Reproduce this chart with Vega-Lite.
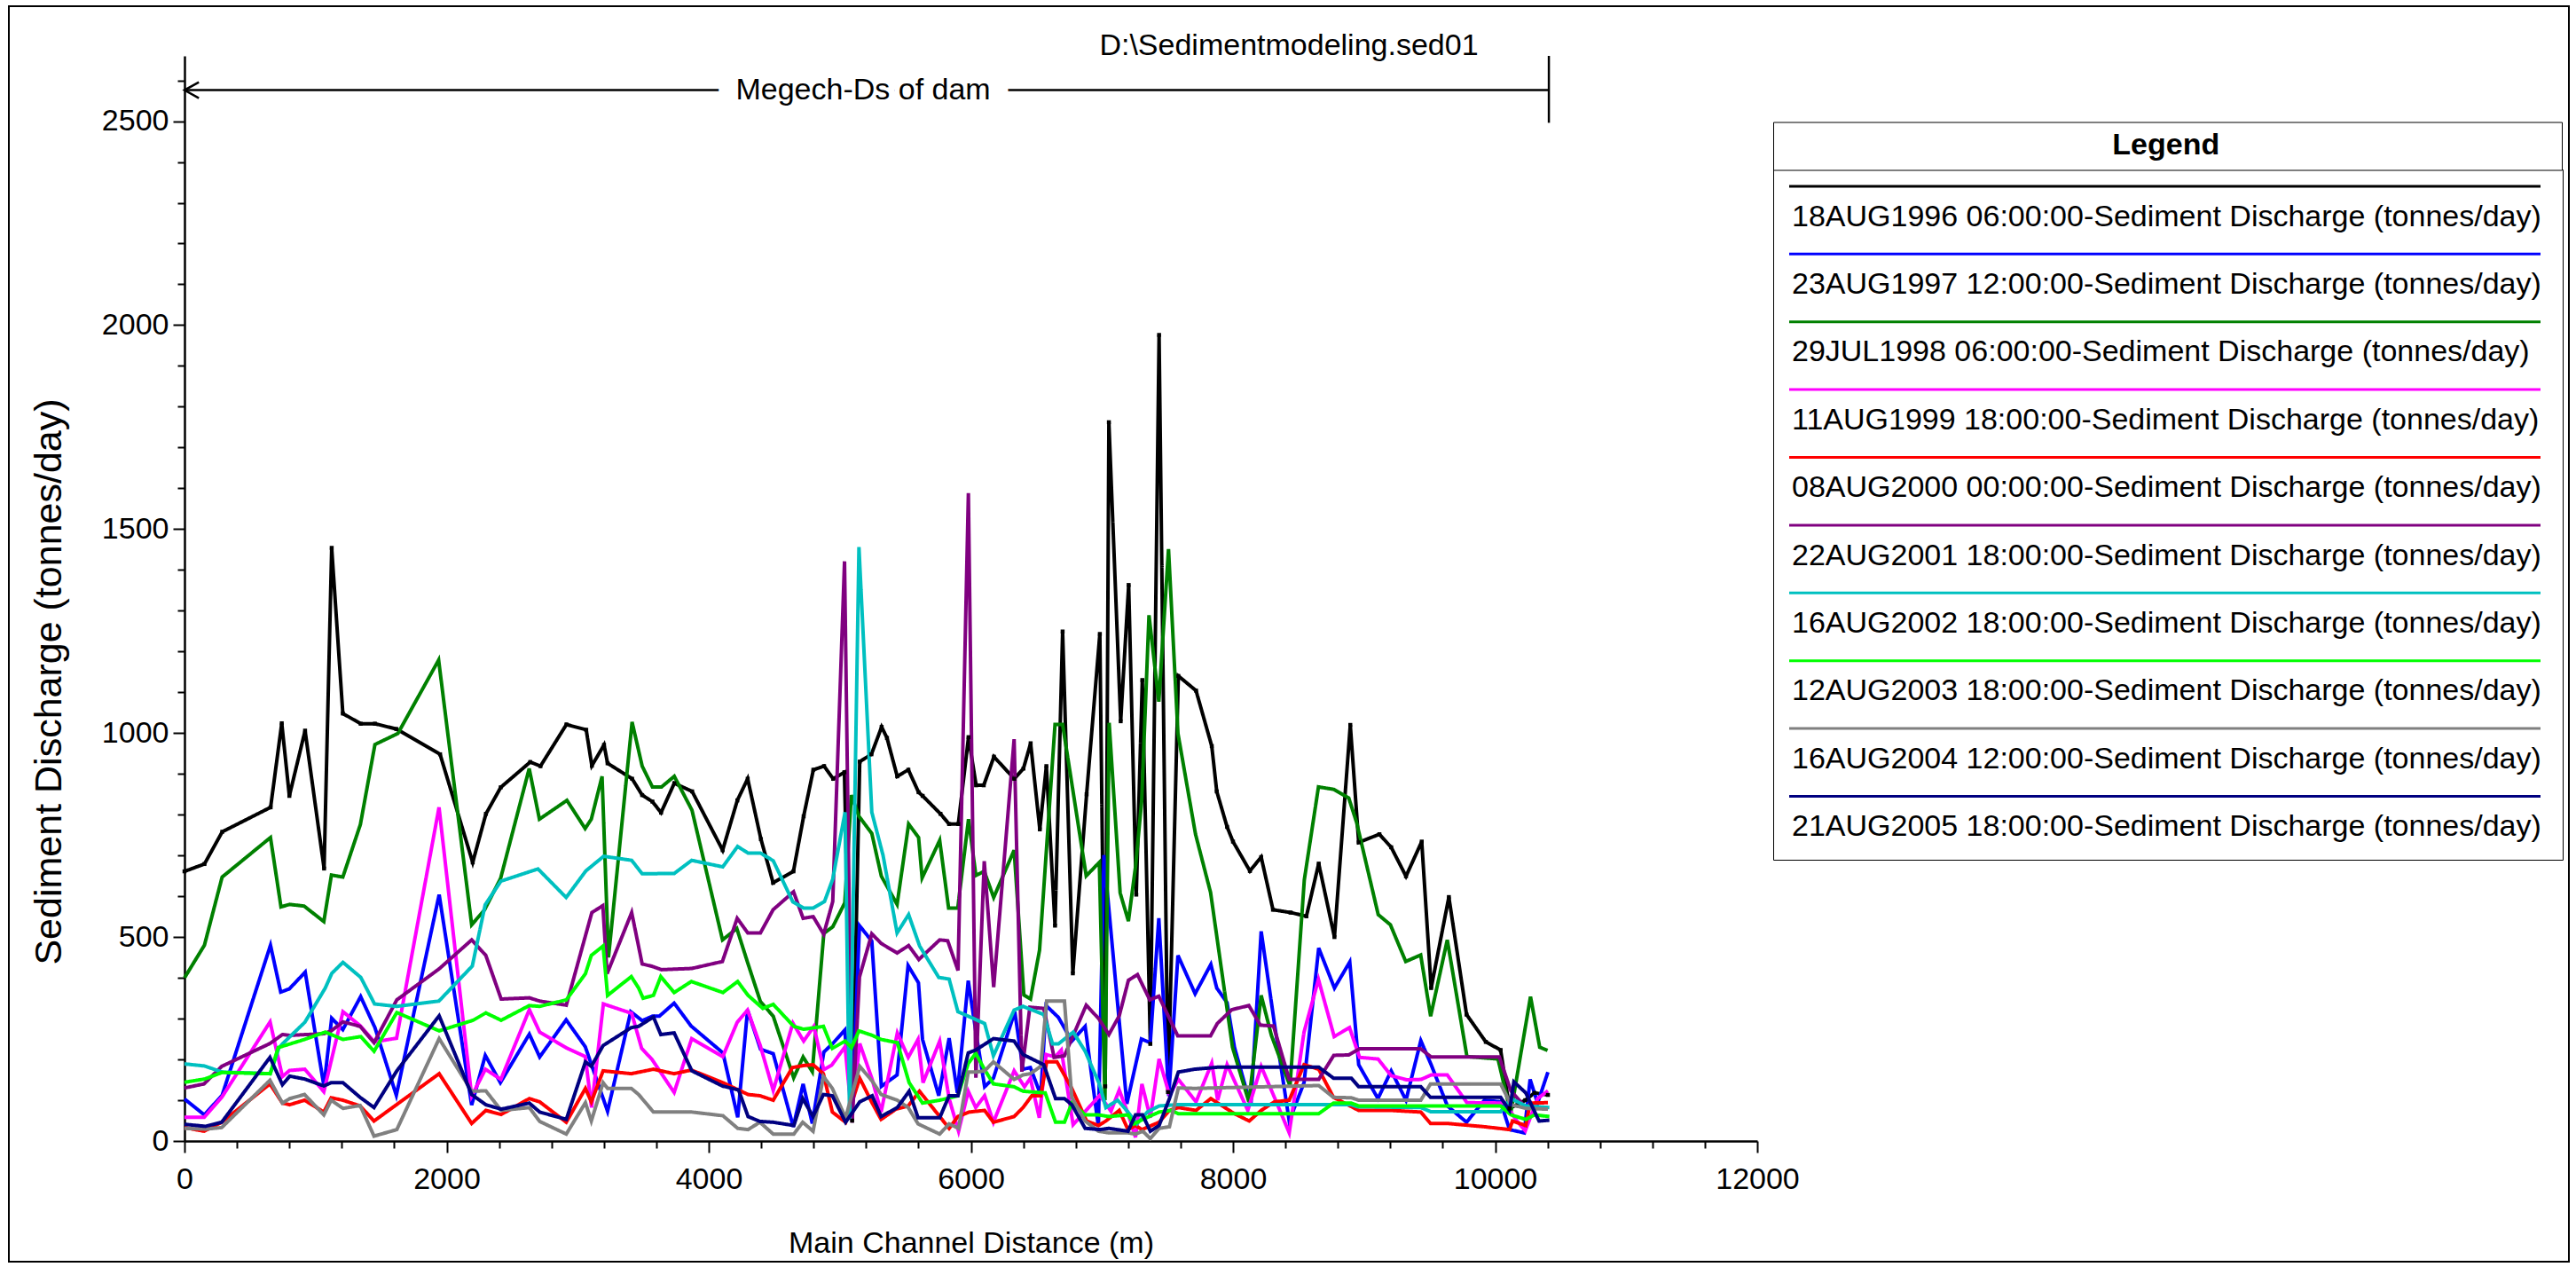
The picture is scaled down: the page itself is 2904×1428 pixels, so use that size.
{
"$schema":"https://vega.github.io/schema/vega-lite/v6.json",
"width":2886,"height":1415,
"autosize":{"type":"none"},
"padding":{"left":10,"top":7,"right":8,"bottom":6},
"background":"white",
"config":{"font":"Liberation Sans","view":{"stroke":"black","strokeWidth":2},"axis":{"grid":false}},
"title":{"text":"D:\\Sedimentmodeling.sed01","fontSize":34,"fontWeight":"normal","color":"black","anchor":"middle","baseline":"alphabetic","offset":-89},
"datasets":{
"series":[
{"s":"a","name":"18AUG1996 06:00:00-Sediment Discharge (tonnes/day)"},
{"s":"b","name":"23AUG1997 12:00:00-Sediment Discharge (tonnes/day)"},
{"s":"c","name":"29JUL1998 06:00:00-Sediment Discharge (tonnes/day)"},
{"s":"d","name":"11AUG1999 18:00:00-Sediment Discharge (tonnes/day)"},
{"s":"e","name":"08AUG2000 00:00:00-Sediment Discharge (tonnes/day)"},
{"s":"f","name":"22AUG2001 18:00:00-Sediment Discharge (tonnes/day)"},
{"s":"g","name":"16AUG2002 18:00:00-Sediment Discharge (tonnes/day)"},
{"s":"h","name":"12AUG2003 18:00:00-Sediment Discharge (tonnes/day)"},
{"s":"i","name":"16AUG2004 12:00:00-Sediment Discharge (tonnes/day)"},
{"s":"j","name":"21AUG2005 18:00:00-Sediment Discharge (tonnes/day)"}
],
"pts":[
{"s":"a","x":0,"y":661},{"s":"a","x":152,"y":679},{"s":"a","x":288,"y":758},{"s":"a","x":657,"y":818},{"s":"a","x":742,"y":1024},{"s":"a","x":800,"y":846},{"s":"a","x":920,"y":1006},{"s":"a","x":1065,"y":668},{"s":"a","x":1123,"y":1454},{"s":"a","x":1208,"y":1048},{"s":"a","x":1344,"y":1023},{"s":"a","x":1453,"y":1023},{"s":"a","x":1616,"y":1010},{"s":"a","x":1950,"y":948},{"s":"a","x":2199,"y":683},{"s":"a","x":2300,"y":802},{"s":"a","x":2413,"y":867},{"s":"a","x":2638,"y":929},{"s":"a","x":2716,"y":919},{"s":"a","x":2914,"y":1021},{"s":"a","x":3065,"y":1008},{"s":"a","x":3108,"y":920},{"s":"a","x":3201,"y":971},{"s":"a","x":3228,"y":926},{"s":"a","x":3415,"y":888},{"s":"a","x":3492,"y":848},{"s":"a","x":3570,"y":832},{"s":"a","x":3636,"y":805},{"s":"a","x":3737,"y":877},{"s":"a","x":3873,"y":857},{"s":"a","x":4106,"y":713},{"s":"a","x":4218,"y":835},{"s":"a","x":4297,"y":888},{"s":"a","x":4398,"y":740},{"s":"a","x":4491,"y":633},{"s":"a","x":4646,"y":661},{"s":"a","x":4724,"y":796},{"s":"a","x":4798,"y":910},{"s":"a","x":4880,"y":919},{"s":"a","x":4949,"y":888},{"s":"a","x":5035,"y":904},{"s":"a","x":5094,"y":50},{"s":"a","x":5152,"y":930},{"s":"a","x":5241,"y":948},{"s":"a","x":5319,"y":1015},{"s":"a","x":5360,"y":988},{"s":"a","x":5438,"y":894},{"s":"a","x":5523,"y":910},{"s":"a","x":5601,"y":855},{"s":"a","x":5632,"y":846},{"s":"a","x":5768,"y":802},{"s":"a","x":5834,"y":777},{"s":"a","x":5904,"y":777},{"s":"a","x":5982,"y":990},{"s":"a","x":6040,"y":872},{"s":"a","x":6098,"y":872},{"s":"a","x":6176,"y":942},{"s":"a","x":6331,"y":888},{"s":"a","x":6401,"y":913},{"s":"a","x":6456,"y":975},{"s":"a","x":6526,"y":764},{"s":"a","x":6576,"y":919},{"s":"a","x":6642,"y":528},{"s":"a","x":6700,"y":1249},{"s":"a","x":6778,"y":411},{"s":"a","x":6883,"y":850},{"s":"a","x":6984,"y":1243},{"s":"a","x":7025,"y":134},{"s":"a","x":7053,"y":1762},{"s":"a","x":7143,"y":1029},{"s":"a","x":7204,"y":1363},{"s":"a","x":7262,"y":604},{"s":"a","x":7308,"y":1130},{"s":"a","x":7369,"y":238},{"s":"a","x":7436,"y":1976},{"s":"a","x":7504,"y":120},{"s":"a","x":7583,"y":1140},{"s":"a","x":7718,"y":1104},{"s":"a","x":7838,"y":968},{"s":"a","x":7876,"y":857},{"s":"a","x":7955,"y":770},{"s":"a","x":8000,"y":734},{"s":"a","x":8129,"y":662},{"s":"a","x":8215,"y":696},{"s":"a","x":8305,"y":567},{"s":"a","x":8440,"y":560},{"s":"a","x":8560,"y":551},{"s":"a","x":8654,"y":680},{"s":"a","x":8774,"y":500},{"s":"a","x":8895,"y":1020},{"s":"a","x":8959,"y":732},{"s":"a","x":9117,"y":752},{"s":"a","x":9207,"y":720},{"s":"a","x":9320,"y":649},{"s":"a","x":9440,"y":734},{"s":"a","x":9512,"y":375},{"s":"a","x":9647,"y":598},{"s":"a","x":9782,"y":310},{"s":"a","x":9929,"y":243},{"s":"a","x":10042,"y":223},{"s":"a","x":10110,"y":80},{"s":"a","x":10230,"y":100},{"s":"a","x":10300,"y":118},{"s":"a","x":10403,"y":113},
{"s":"b","x":0,"y":103},{"s":"b","x":151,"y":64},{"s":"b","x":287,"y":112},{"s":"b","x":656,"y":480},{"s":"b","x":734,"y":365},{"s":"b","x":800,"y":373},{"s":"b","x":921,"y":414},{"s":"b","x":1064,"y":134},{"s":"b","x":1123,"y":301},{"s":"b","x":1208,"y":273},{"s":"b","x":1344,"y":354},{"s":"b","x":1453,"y":278},{"s":"b","x":1616,"y":112},{"s":"b","x":1943,"y":604},{"s":"b","x":2191,"y":88},{"s":"b","x":2295,"y":210},{"s":"b","x":2410,"y":143},{"s":"b","x":2631,"y":262},{"s":"b","x":2710,"y":206},{"s":"b","x":2912,"y":297},{"s":"b","x":3058,"y":231},{"s":"b","x":3228,"y":73},{"s":"b","x":3405,"y":317},{"s":"b","x":3492,"y":295},{"s":"b","x":3570,"y":306},{"s":"b","x":3623,"y":306},{"s":"b","x":3736,"y":338},{"s":"b","x":3865,"y":282},{"s":"b","x":4108,"y":216},{"s":"b","x":4221,"y":58},{"s":"b","x":4296,"y":321},{"s":"b","x":4395,"y":225},{"s":"b","x":4492,"y":214},{"s":"b","x":4645,"y":35},{"s":"b","x":4720,"y":140},{"s":"b","x":4790,"y":43},{"s":"b","x":4878,"y":218},{"s":"b","x":4949,"y":240},{"s":"b","x":5038,"y":272},{"s":"b","x":5092,"y":57},{"s":"b","x":5150,"y":528},{"s":"b","x":5244,"y":490},{"s":"b","x":5317,"y":134},{"s":"b","x":5437,"y":162},{"s":"b","x":5521,"y":430},{"s":"b","x":5600,"y":388},{"s":"b","x":5631,"y":249},{"s":"b","x":5755,"y":111},{"s":"b","x":5834,"y":252},{"s":"b","x":5897,"y":118},{"s":"b","x":5980,"y":393},{"s":"b","x":6037,"y":270},{"s":"b","x":6105,"y":133},{"s":"b","x":6172,"y":154},{"s":"b","x":6335,"y":317},{"s":"b","x":6398,"y":176},{"s":"b","x":6454,"y":180},{"s":"b","x":6533,"y":113},{"s":"b","x":6574,"y":332},{"s":"b","x":6668,"y":303},{"s":"b","x":6770,"y":245},{"s":"b","x":6872,"y":281},{"s":"b","x":6973,"y":35},{"s":"b","x":7015,"y":701},{"s":"b","x":7190,"y":91},{"s":"b","x":7301,"y":250},{"s":"b","x":7369,"y":241},{"s":"b","x":7434,"y":546},{"s":"b","x":7510,"y":110},{"s":"b","x":7580,"y":455},{"s":"b","x":7711,"y":361},{"s":"b","x":7831,"y":433},{"s":"b","x":7876,"y":375},{"s":"b","x":7955,"y":339},{"s":"b","x":8011,"y":230},{"s":"b","x":8136,"y":86},{"s":"b","x":8215,"y":514},{"s":"b","x":8316,"y":288},{"s":"b","x":8429,"y":49},{"s":"b","x":8542,"y":143},{"s":"b","x":8654,"y":473},{"s":"b","x":8774,"y":375},{"s":"b","x":8891,"y":439},{"s":"b","x":8959,"y":187},{"s":"b","x":9106,"y":104},{"s":"b","x":9207,"y":172},{"s":"b","x":9320,"y":100},{"s":"b","x":9433,"y":246},{"s":"b","x":9512,"y":187},{"s":"b","x":9636,"y":86},{"s":"b","x":9782,"y":46},{"s":"b","x":9918,"y":100},{"s":"b","x":10042,"y":96},{"s":"b","x":10110,"y":28},{"s":"b","x":10222,"y":20},{"s":"b","x":10267,"y":151},{"s":"b","x":10324,"y":93},{"s":"b","x":10403,"y":169},
{"s":"c","x":0,"y":400},{"s":"c","x":152,"y":480},{"s":"c","x":287,"y":647},{"s":"c","x":656,"y":744},{"s":"c","x":736,"y":574},{"s":"c","x":802,"y":580},{"s":"c","x":912,"y":576},{"s":"c","x":1063,"y":538},{"s":"c","x":1121,"y":652},{"s":"c","x":1208,"y":647},{"s":"c","x":1342,"y":776},{"s":"c","x":1453,"y":972},{"s":"c","x":1628,"y":999},{"s":"c","x":1939,"y":1179},{"s":"c","x":2191,"y":530},{"s":"c","x":2290,"y":567},{"s":"c","x":2412,"y":644},{"s":"c","x":2630,"y":913},{"s":"c","x":2708,"y":789},{"s":"c","x":2918,"y":835},{"s":"c","x":3057,"y":766},{"s":"c","x":3104,"y":789},{"s":"c","x":3186,"y":894},{"s":"c","x":3235,"y":450},{"s":"c","x":3415,"y":1027},{"s":"c","x":3492,"y":919},{"s":"c","x":3570,"y":868},{"s":"c","x":3640,"y":868},{"s":"c","x":3737,"y":894},{"s":"c","x":3872,"y":811},{"s":"c","x":4105,"y":493},{"s":"c","x":4214,"y":521},{"s":"c","x":4298,"y":436},{"s":"c","x":4394,"y":342},{"s":"c","x":4492,"y":306},{"s":"c","x":4648,"y":155},{"s":"c","x":4720,"y":206},{"s":"c","x":4790,"y":170},{"s":"c","x":4878,"y":509},{"s":"c","x":4946,"y":525},{"s":"c","x":5038,"y":584},{"s":"c","x":5088,"y":848},{"s":"c","x":5146,"y":796},{"s":"c","x":5244,"y":754},{"s":"c","x":5317,"y":649},{"s":"c","x":5437,"y":580},{"s":"c","x":5525,"y":777},{"s":"c","x":5601,"y":744},{"s":"c","x":5628,"y":645},{"s":"c","x":5762,"y":737},{"s":"c","x":5830,"y":571},{"s":"c","x":5900,"y":571},{"s":"c","x":5982,"y":789},{"s":"c","x":6038,"y":651},{"s":"c","x":6102,"y":661},{"s":"c","x":6174,"y":597},{"s":"c","x":6330,"y":713},{"s":"c","x":6404,"y":358},{"s":"c","x":6455,"y":348},{"s":"c","x":6524,"y":468},{"s":"c","x":6642,"y":1021},{"s":"c","x":6700,"y":1021},{"s":"c","x":6880,"y":650},{"s":"c","x":6980,"y":683},{"s":"c","x":7023,"y":100},{"s":"c","x":7055,"y":1025},{"s":"c","x":7139,"y":608},{"s":"c","x":7202,"y":539},{"s":"c","x":7256,"y":672},{"s":"c","x":7303,"y":833},{"s":"c","x":7359,"y":1289},{"s":"c","x":7434,"y":1077},{"s":"c","x":7508,"y":1451},{"s":"c","x":7580,"y":999},{"s":"c","x":7714,"y":752},{"s":"c","x":7829,"y":609},{"s":"c","x":7996,"y":230},{"s":"c","x":8121,"y":96},{"s":"c","x":8215,"y":357},{"s":"c","x":8293,"y":259},{"s":"c","x":8435,"y":135},{"s":"c","x":8544,"y":640},{"s":"c","x":8652,"y":868},{"s":"c","x":8769,"y":862},{"s":"c","x":8883,"y":841},{"s":"c","x":8943,"y":781},{"s":"c","x":9108,"y":555},{"s":"c","x":9201,"y":530},{"s":"c","x":9318,"y":440},{"s":"c","x":9432,"y":456},{"s":"c","x":9508,"y":306},{"s":"c","x":9635,"y":493},{"s":"c","x":9785,"y":207},{"s":"c","x":10022,"y":201},{"s":"c","x":10119,"y":68},{"s":"c","x":10270,"y":354},{"s":"c","x":10340,"y":230},{"s":"c","x":10400,"y":222},
{"s":"d","x":0,"y":58},{"s":"d","x":150,"y":58},{"s":"d","x":286,"y":108},{"s":"d","x":653,"y":292},{"s":"d","x":747,"y":158},{"s":"d","x":802,"y":173},{"s":"d","x":918,"y":176},{"s":"d","x":1063,"y":121},{"s":"d","x":1209,"y":317},{"s":"d","x":1343,"y":282},{"s":"d","x":1448,"y":243},{"s":"d","x":1618,"y":252},{"s":"d","x":1942,"y":818},{"s":"d","x":2191,"y":110},{"s":"d","x":2296,"y":176},{"s":"d","x":2414,"y":151},{"s":"d","x":2631,"y":322},{"s":"d","x":2710,"y":267},{"s":"d","x":2915,"y":228},{"s":"d","x":3058,"y":207},{"s":"d","x":3106,"y":82},{"s":"d","x":3196,"y":336},{"s":"d","x":3412,"y":313},{"s":"d","x":3488,"y":227},{"s":"d","x":3567,"y":200},{"s":"d","x":3736,"y":119},{"s":"d","x":3870,"y":251},{"s":"d","x":4107,"y":207},{"s":"d","x":4217,"y":291},{"s":"d","x":4296,"y":321},{"s":"d","x":4393,"y":234},{"s":"d","x":4492,"y":124},{"s":"d","x":4642,"y":289},{"s":"d","x":4724,"y":245},{"s":"d","x":4802,"y":281},{"s":"d","x":4877,"y":175},{"s":"d","x":4938,"y":186},{"s":"d","x":5040,"y":231},{"s":"d","x":5090,"y":65},{"s":"d","x":5152,"y":239},{"s":"d","x":5247,"y":151},{"s":"d","x":5315,"y":71},{"s":"d","x":5439,"y":265},{"s":"d","x":5522,"y":205},{"s":"d","x":5597,"y":249},{"s":"d","x":5635,"y":143},{"s":"d","x":5762,"y":245},{"s":"d","x":5834,"y":104},{"s":"d","x":5906,"y":24},{"s":"d","x":5980,"y":122},{"s":"d","x":6037,"y":82},{"s":"d","x":6105,"y":111},{"s":"d","x":6172,"y":46},{"s":"d","x":6330,"y":172},{"s":"d","x":6409,"y":133},{"s":"d","x":6454,"y":154},{"s":"d","x":6522,"y":57},{"s":"d","x":6574,"y":212},{"s":"d","x":6642,"y":206},{"s":"d","x":6690,"y":223},{"s":"d","x":6780,"y":40},{"s":"d","x":6984,"y":112},{"s":"d","x":7069,"y":73},{"s":"d","x":7132,"y":125},{"s":"d","x":7199,"y":67},{"s":"d","x":7256,"y":9},{"s":"d","x":7305,"y":140},{"s":"d","x":7369,"y":57},{"s":"d","x":7436,"y":201},{"s":"d","x":7516,"y":112},{"s":"d","x":7583,"y":151},{"s":"d","x":7718,"y":96},{"s":"d","x":7838,"y":191},{"s":"d","x":7883,"y":100},{"s":"d","x":7955,"y":187},{"s":"d","x":8113,"y":75},{"s":"d","x":8215,"y":183},{"s":"d","x":8316,"y":107},{"s":"d","x":8429,"y":20},{"s":"d","x":8542,"y":267},{"s":"d","x":8652,"y":396},{"s":"d","x":8772,"y":256},{"s":"d","x":8889,"y":278},{"s":"d","x":8966,"y":205},{"s":"d","x":9107,"y":201},{"s":"d","x":9207,"y":160},{"s":"d","x":9327,"y":150},{"s":"d","x":9436,"y":151},{"s":"d","x":9512,"y":162},{"s":"d","x":9635,"y":162},{"s":"d","x":9785,"y":94},{"s":"d","x":10075,"y":93},{"s":"d","x":10166,"y":49},{"s":"d","x":10230,"y":25},{"s":"d","x":10324,"y":104},{"s":"d","x":10403,"y":123},
{"s":"e","x":0,"y":33},{"s":"e","x":149,"y":24},{"s":"e","x":284,"y":46},{"s":"e","x":652,"y":140},{"s":"e","x":747,"y":93},{"s":"e","x":803,"y":89},{"s":"e","x":916,"y":100},{"s":"e","x":1063,"y":71},{"s":"e","x":1119,"y":106},{"s":"e","x":1209,"y":100},{"s":"e","x":1340,"y":86},{"s":"e","x":1446,"y":49},{"s":"e","x":1943,"y":165},{"s":"e","x":2191,"y":43},{"s":"e","x":2299,"y":75},{"s":"e","x":2416,"y":65},{"s":"e","x":2631,"y":104},{"s":"e","x":2710,"y":96},{"s":"e","x":2913,"y":46},{"s":"e","x":3059,"y":129},{"s":"e","x":3104,"y":96},{"s":"e","x":3194,"y":172},{"s":"e","x":3409,"y":165},{"s":"e","x":3578,"y":176},{"s":"e","x":3736,"y":165},{"s":"e","x":3867,"y":174},{"s":"e","x":4108,"y":143},{"s":"e","x":4300,"y":114},{"s":"e","x":4390,"y":111},{"s":"e","x":4492,"y":100},{"s":"e","x":4638,"y":180},{"s":"e","x":4724,"y":185},{"s":"e","x":4796,"y":187},{"s":"e","x":4875,"y":165},{"s":"e","x":4943,"y":71},{"s":"e","x":5044,"y":46},{"s":"e","x":5152,"y":154},{"s":"e","x":5247,"y":93},{"s":"e","x":5315,"y":53},{"s":"e","x":5428,"y":78},{"s":"e","x":5522,"y":86},{"s":"e","x":5608,"y":122},{"s":"e","x":5762,"y":60},{"s":"e","x":5834,"y":31},{"s":"e","x":5901,"y":60},{"s":"e","x":5987,"y":71},{"s":"e","x":6105,"y":75},{"s":"e","x":6172,"y":46},{"s":"e","x":6330,"y":60},{"s":"e","x":6398,"y":82},{"s":"e","x":6465,"y":111},{"s":"e","x":6533,"y":111},{"s":"e","x":6578,"y":194},{"s":"e","x":6657,"y":194},{"s":"e","x":6770,"y":129},{"s":"e","x":6883,"y":49},{"s":"e","x":6973,"y":38},{"s":"e","x":7030,"y":49},{"s":"e","x":7132,"y":75},{"s":"e","x":7199,"y":28},{"s":"e","x":7256,"y":38},{"s":"e","x":7305,"y":28},{"s":"e","x":7436,"y":46},{"s":"e","x":7515,"y":75},{"s":"e","x":7583,"y":82},{"s":"e","x":7718,"y":75},{"s":"e","x":7831,"y":104},{"s":"e","x":8011,"y":67},{"s":"e","x":8124,"y":49},{"s":"e","x":8215,"y":75},{"s":"e","x":8316,"y":96},{"s":"e","x":8429,"y":100},{"s":"e","x":8542,"y":187},{"s":"e","x":8654,"y":176},{"s":"e","x":8767,"y":107},{"s":"e","x":8959,"y":75},{"s":"e","x":9207,"y":75},{"s":"e","x":9433,"y":71},{"s":"e","x":9507,"y":43},{"s":"e","x":9636,"y":43},{"s":"e","x":9918,"y":35},{"s":"e","x":10110,"y":28},{"s":"e","x":10132,"y":49},{"s":"e","x":10234,"y":38},{"s":"e","x":10267,"y":93},{"s":"e","x":10403,"y":94},
{"s":"f","x":0,"y":130},{"s":"f","x":149,"y":140},{"s":"f","x":284,"y":183},{"s":"f","x":652,"y":239},{"s":"f","x":747,"y":261},{"s":"f","x":803,"y":259},{"s":"f","x":1063,"y":263},{"s":"f","x":1119,"y":270},{"s":"f","x":1209,"y":292},{"s":"f","x":1340,"y":281},{"s":"f","x":1446,"y":241},{"s":"f","x":1620,"y":346},{"s":"f","x":1943,"y":422},{"s":"f","x":2191,"y":493},{"s":"f","x":2299,"y":455},{"s":"f","x":2416,"y":348},{"s":"f","x":2631,"y":351},{"s":"f","x":2710,"y":343},{"s":"f","x":2913,"y":333},{"s":"f","x":3108,"y":560},{"s":"f","x":3192,"y":577},{"s":"f","x":3224,"y":410},{"s":"f","x":3412,"y":560},{"s":"f","x":3492,"y":434},{"s":"f","x":3570,"y":428},{"s":"f","x":3640,"y":420},{"s":"f","x":3871,"y":423},{"s":"f","x":4104,"y":440},{"s":"f","x":4217,"y":546},{"s":"f","x":4298,"y":510},{"s":"f","x":4394,"y":510},{"s":"f","x":4491,"y":567},{"s":"f","x":4647,"y":611},{"s":"f","x":4720,"y":546},{"s":"f","x":4797,"y":550},{"s":"f","x":4877,"y":507},{"s":"f","x":4946,"y":587},{"s":"f","x":5036,"y":1421},{"s":"f","x":5094,"y":45},{"s":"f","x":5150,"y":402},{"s":"f","x":5244,"y":508},{"s":"f","x":5317,"y":484},{"s":"f","x":5437,"y":461},{"s":"f","x":5525,"y":479},{"s":"f","x":5603,"y":445},{"s":"f","x":5762,"y":493},{"s":"f","x":5823,"y":491},{"s":"f","x":5902,"y":418},{"s":"f","x":5981,"y":1588},{"s":"f","x":6038,"y":155},{"s":"f","x":6102,"y":686},{"s":"f","x":6174,"y":377},{"s":"f","x":6330,"y":985},{"s":"f","x":6389,"y":170},{"s":"f","x":6450,"y":328},{"s":"f","x":6556,"y":325},{"s":"f","x":6635,"y":205},{"s":"f","x":6714,"y":209},{"s":"f","x":6781,"y":259},{"s":"f","x":6880,"y":333},{"s":"f","x":6975,"y":300},{"s":"f","x":7053,"y":261},{"s":"f","x":7132,"y":307},{"s":"f","x":7202,"y":394},{"s":"f","x":7271,"y":408},{"s":"f","x":7365,"y":346},{"s":"f","x":7434,"y":355},{"s":"f","x":7578,"y":258},{"s":"f","x":7829,"y":258},{"s":"f","x":7880,"y":288},{"s":"f","x":7991,"y":322},{"s":"f","x":8121,"y":332},{"s":"f","x":8209,"y":284},{"s":"f","x":8309,"y":282},{"s":"f","x":8429,"y":151},{"s":"f","x":8654,"y":151},{"s":"f","x":8769,"y":210},{"s":"f","x":8883,"y":211},{"s":"f","x":8966,"y":226},{"s":"f","x":9432,"y":226},{"s":"f","x":9512,"y":206},{"s":"f","x":10032,"y":206},{"s":"f","x":10120,"y":123},{"s":"f","x":10234,"y":82},{"s":"f","x":10403,"y":80},
{"s":"g","x":0,"y":189},{"s":"g","x":152,"y":184},{"s":"g","x":287,"y":169},{"s":"g","x":654,"y":165},{"s":"g","x":720,"y":228},{"s":"g","x":747,"y":238},{"s":"g","x":918,"y":291},{"s":"g","x":1074,"y":375},{"s":"g","x":1124,"y":411},{"s":"g","x":1209,"y":438},{"s":"g","x":1345,"y":401},{"s":"g","x":1450,"y":336},{"s":"g","x":1618,"y":330},{"s":"g","x":1941,"y":343},{"s":"g","x":2196,"y":429},{"s":"g","x":2294,"y":579},{"s":"g","x":2414,"y":637},{"s":"g","x":2697,"y":667},{"s":"g","x":2912,"y":597},{"s":"g","x":3062,"y":662},{"s":"g","x":3198,"y":698},{"s":"g","x":3412,"y":688},{"s":"g","x":3492,"y":655},{"s":"g","x":3737,"y":656},{"s":"g","x":3870,"y":688},{"s":"g","x":4107,"y":672},{"s":"g","x":4220,"y":722},{"s":"g","x":4299,"y":706},{"s":"g","x":4394,"y":706},{"s":"g","x":4492,"y":687},{"s":"g","x":4642,"y":586},{"s":"g","x":4724,"y":571},{"s":"g","x":4797,"y":571},{"s":"g","x":4883,"y":587},{"s":"g","x":4946,"y":642},{"s":"g","x":5040,"y":806},{"s":"g","x":5075,"y":52},{"s":"g","x":5146,"y":1456},{"s":"g","x":5244,"y":806},{"s":"g","x":5330,"y":700},{"s":"g","x":5437,"y":510},{"s":"g","x":5525,"y":555},{"s":"g","x":5609,"y":478},{"s":"g","x":5755,"y":401},{"s":"g","x":5834,"y":397},{"s":"g","x":5901,"y":317},{"s":"g","x":5980,"y":306},{"s":"g","x":6105,"y":288},{"s":"g","x":6172,"y":209},{"s":"g","x":6330,"y":321},{"s":"g","x":6398,"y":330},{"s":"g","x":6556,"y":310},{"s":"g","x":6623,"y":238},{"s":"g","x":6668,"y":238},{"s":"g","x":6781,"y":267},{"s":"g","x":6872,"y":220},{"s":"g","x":6980,"y":140},{"s":"g","x":7030,"y":82},{"s":"g","x":7120,"y":100},{"s":"g","x":7199,"y":71},{"s":"g","x":7267,"y":42},{"s":"g","x":7346,"y":71},{"s":"g","x":7436,"y":86},{"s":"g","x":7572,"y":89},{"s":"g","x":8903,"y":89},{"s":"g","x":8948,"y":84},{"s":"g","x":9433,"y":82},{"s":"g","x":9507,"y":72},{"s":"g","x":10042,"y":72},{"s":"g","x":10121,"y":104},{"s":"g","x":10234,"y":86},{"s":"g","x":10414,"y":82},
{"s":"h","x":0,"y":144},{"s":"h","x":155,"y":152},{"s":"h","x":286,"y":168},{"s":"h","x":654,"y":165},{"s":"h","x":715,"y":229},{"s":"h","x":916,"y":249},{"s":"h","x":1074,"y":267},{"s":"h","x":1209,"y":249},{"s":"h","x":1345,"y":256},{"s":"h","x":1446,"y":220},{"s":"h","x":1620,"y":315},{"s":"h","x":1943,"y":270},{"s":"h","x":2202,"y":296},{"s":"h","x":2299,"y":314},{"s":"h","x":2416,"y":296},{"s":"h","x":2631,"y":332},{"s":"h","x":2710,"y":330},{"s":"h","x":2913,"y":346},{"s":"h","x":3059,"y":410},{"s":"h","x":3104,"y":455},{"s":"h","x":3194,"y":478},{"s":"h","x":3228,"y":357},{"s":"h","x":3409,"y":403},{"s":"h","x":3465,"y":375},{"s":"h","x":3499,"y":350},{"s":"h","x":3578,"y":357},{"s":"h","x":3634,"y":403},{"s":"h","x":3736,"y":364},{"s":"h","x":3867,"y":391},{"s":"h","x":4108,"y":364},{"s":"h","x":4221,"y":391},{"s":"h","x":4300,"y":357},{"s":"h","x":4413,"y":325},{"s":"h","x":4492,"y":335},{"s":"h","x":4649,"y":281},{"s":"h","x":4724,"y":274},{"s":"h","x":4875,"y":281},{"s":"h","x":4943,"y":227},{"s":"h","x":5040,"y":245},{"s":"h","x":5089,"y":229},{"s":"h","x":5146,"y":270},{"s":"h","x":5247,"y":259},{"s":"h","x":5315,"y":249},{"s":"h","x":5439,"y":241},{"s":"h","x":5529,"y":143},{"s":"h","x":5631,"y":93},{"s":"h","x":5762,"y":100},{"s":"h","x":5901,"y":111},{"s":"h","x":5980,"y":190},{"s":"h","x":6037,"y":215},{"s":"h","x":6105,"y":175},{"s":"h","x":6172,"y":140},{"s":"h","x":6330,"y":133},{"s":"h","x":6398,"y":122},{"s":"h","x":6567,"y":118},{"s":"h","x":6646,"y":46},{"s":"h","x":6714,"y":46},{"s":"h","x":6770,"y":93},{"s":"h","x":6872,"y":64},{"s":"h","x":6973,"y":64},{"s":"h","x":7053,"y":60},{"s":"h","x":7199,"y":64},{"s":"h","x":7244,"y":42},{"s":"h","x":7312,"y":53},{"s":"h","x":7436,"y":71},{"s":"h","x":7527,"y":75},{"s":"h","x":7583,"y":67},{"s":"h","x":8654,"y":67},{"s":"h","x":8767,"y":93},{"s":"h","x":8903,"y":93},{"s":"h","x":8959,"y":86},{"s":"h","x":10042,"y":86},{"s":"h","x":10121,"y":64},{"s":"h","x":10234,"y":53},{"s":"h","x":10301,"y":64},{"s":"h","x":10414,"y":60},
{"s":"i","x":0,"y":31},{"s":"i","x":160,"y":29},{"s":"i","x":284,"y":33},{"s":"i","x":652,"y":149},{"s":"i","x":747,"y":93},{"s":"i","x":803,"y":104},{"s":"i","x":916,"y":114},{"s":"i","x":1063,"y":64},{"s":"i","x":1119,"y":100},{"s":"i","x":1209,"y":80},{"s":"i","x":1340,"y":87},{"s":"i","x":1446,"y":12},{"s":"i","x":1620,"y":28},{"s":"i","x":1943,"y":251},{"s":"i","x":2191,"y":122},{"s":"i","x":2299,"y":123},{"s":"i","x":2416,"y":75},{"s":"i","x":2631,"y":82},{"s":"i","x":2710,"y":48},{"s":"i","x":2913,"y":17},{"s":"i","x":3059,"y":94},{"s":"i","x":3104,"y":49},{"s":"i","x":3194,"y":143},{"s":"i","x":3228,"y":129},{"s":"i","x":3409,"y":129},{"s":"i","x":3465,"y":114},{"s":"i","x":3578,"y":71},{"s":"i","x":3871,"y":71},{"s":"i","x":4108,"y":62},{"s":"i","x":4221,"y":31},{"s":"i","x":4300,"y":28},{"s":"i","x":4390,"y":46},{"s":"i","x":4492,"y":17},{"s":"i","x":4649,"y":17},{"s":"i","x":4717,"y":46},{"s":"i","x":4796,"y":24},{"s":"i","x":4875,"y":158},{"s":"i","x":4943,"y":129},{"s":"i","x":5044,"y":57},{"s":"i","x":5152,"y":183},{"s":"i","x":5247,"y":147},{"s":"i","x":5315,"y":114},{"s":"i","x":5439,"y":100},{"s":"i","x":5522,"y":82},{"s":"i","x":5597,"y":42},{"s":"i","x":5762,"y":17},{"s":"i","x":5834,"y":42},{"s":"i","x":5906,"y":31},{"s":"i","x":5980,"y":169},{"s":"i","x":6037,"y":169},{"s":"i","x":6105,"y":172},{"s":"i","x":6172,"y":194},{"s":"i","x":6330,"y":151},{"s":"i","x":6398,"y":162},{"s":"i","x":6454,"y":165},{"s":"i","x":6533,"y":183},{"s":"i","x":6578,"y":343},{"s":"i","x":6714,"y":343},{"s":"i","x":6770,"y":107},{"s":"i","x":6872,"y":49},{"s":"i","x":6973,"y":24},{"s":"i","x":7053,"y":20},{"s":"i","x":7199,"y":20},{"s":"i","x":7256,"y":17},{"s":"i","x":7312,"y":24},{"s":"i","x":7369,"y":6},{"s":"i","x":7436,"y":31},{"s":"i","x":7515,"y":35},{"s":"i","x":7583,"y":130},{"s":"i","x":7707,"y":129},{"s":"i","x":8654,"y":136},{"s":"i","x":8767,"y":107},{"s":"i","x":8903,"y":106},{"s":"i","x":8959,"y":100},{"s":"i","x":9433,"y":100},{"s":"i","x":9507,"y":140},{"s":"i","x":10042,"y":140},{"s":"i","x":10121,"y":89},{"s":"i","x":10234,"y":80},{"s":"i","x":10403,"y":78},
{"s":"j","x":0,"y":41},{"s":"j","x":160,"y":36},{"s":"j","x":284,"y":46},{"s":"j","x":652,"y":205},{"s":"j","x":747,"y":138},{"s":"j","x":803,"y":159},{"s":"j","x":916,"y":152},{"s":"j","x":1063,"y":135},{"s":"j","x":1119,"y":143},{"s":"j","x":1209,"y":143},{"s":"j","x":1340,"y":107},{"s":"j","x":1446,"y":82},{"s":"j","x":1620,"y":172},{"s":"j","x":1943,"y":307},{"s":"j","x":2191,"y":114},{"s":"j","x":2299,"y":89},{"s":"j","x":2416,"y":78},{"s":"j","x":2631,"y":93},{"s":"j","x":2710,"y":71},{"s":"j","x":2913,"y":53},{"s":"j","x":3059,"y":194},{"s":"j","x":3104,"y":183},{"s":"j","x":3194,"y":234},{"s":"j","x":3409,"y":278},{"s":"j","x":3465,"y":281},{"s":"j","x":3578,"y":304},{"s":"j","x":3634,"y":261},{"s":"j","x":3736,"y":265},{"s":"j","x":3871,"y":172},{"s":"j","x":4103,"y":135},{"s":"j","x":4228,"y":125},{"s":"j","x":4300,"y":60},{"s":"j","x":4390,"y":48},{"s":"j","x":4492,"y":46},{"s":"j","x":4649,"y":38},{"s":"j","x":4717,"y":104},{"s":"j","x":4796,"y":60},{"s":"j","x":4875,"y":114},{"s":"j","x":4943,"y":111},{"s":"j","x":5044,"y":46},{"s":"j","x":5152,"y":96},{"s":"j","x":5247,"y":111},{"s":"j","x":5315,"y":60},{"s":"j","x":5439,"y":82},{"s":"j","x":5529,"y":122},{"s":"j","x":5597,"y":57},{"s":"j","x":5762,"y":57},{"s":"j","x":5834,"y":111},{"s":"j","x":5901,"y":111},{"s":"j","x":5980,"y":216},{"s":"j","x":6037,"y":223},{"s":"j","x":6172,"y":251},{"s":"j","x":6330,"y":245},{"s":"j","x":6398,"y":212},{"s":"j","x":6556,"y":187},{"s":"j","x":6646,"y":104},{"s":"j","x":6714,"y":104},{"s":"j","x":6770,"y":89},{"s":"j","x":6872,"y":31},{"s":"j","x":6985,"y":28},{"s":"j","x":7053,"y":31},{"s":"j","x":7199,"y":24},{"s":"j","x":7256,"y":64},{"s":"j","x":7310,"y":64},{"s":"j","x":7369,"y":24},{"s":"j","x":7436,"y":38},{"s":"j","x":7515,"y":104},{"s":"j","x":7583,"y":169},{"s":"j","x":7707,"y":176},{"s":"j","x":7887,"y":181},{"s":"j","x":8654,"y":181},{"s":"j","x":8767,"y":154},{"s":"j","x":8903,"y":154},{"s":"j","x":8959,"y":133},{"s":"j","x":9433,"y":133},{"s":"j","x":9507,"y":107},{"s":"j","x":10042,"y":107},{"s":"j","x":10110,"y":75},{"s":"j","x":10143,"y":145},{"s":"j","x":10234,"y":118},{"s":"j","x":10335,"y":49},{"s":"j","x":10414,"y":51}
]},
"layer":[
{"data":{"name":"pts"},
"transform":[{"lookup":"s","from":{"data":{"name":"series"},"key":"s","fields":["name"]}}],
"mark":{"type":"line","strokeWidth":4},
"encoding":{
"x":{"field":"x","type":"quantitative","scale":{"domain":[0,12000],"range":[198,1971],"nice":false,"zero":false},
"axis":{"title":"Main Channel Distance (m)","values":[0,400,800,1200,1600,2000,2400,2800,3200,3600,4000,4400,4800,5200,5600,6000,6400,6800,7200,7600,8000,8400,8800,9200,9600,10000,10400,10800,11200,11600,12000],"format":"d","labelExpr":"datum.value % 2000 === 0 ? datum.label : ''","tickSize":{"condition":{"test":"datum.value % 2000 === 0","value":13},"value":8},"offset":-136,"domainColor":"black","domainWidth":2.5,"tickColor":"black","tickWidth":2,"labelColor":"black","labelFontSize":34,"labelPadding":13,"labelOverlap":false,"labelFlush":false,"labelBound":false,"titleFontSize":34,"titleFontWeight":"normal","titleColor":"black","titlePadding":38}},
"y":{"field":"y","type":"quantitative","scale":{"domain":[0,2660],"range":[1279,56],"nice":false},
"axis":{"title":"Sediment Discharge (tonnes/day)","values":[0,100,200,300,400,500,600,700,800,900,1000,1100,1200,1300,1400,1500,1600,1700,1800,1900,2000,2100,2200,2300,2400,2500,2600],"format":"d","labelExpr":"datum.value % 500 === 0 ? datum.label : ''","tickSize":{"condition":{"test":"datum.value % 500 === 0","value":13},"value":8},"offset":-198,"domainColor":"black","domainWidth":2.5,"tickColor":"black","tickWidth":2,"labelColor":"black","labelFontSize":34,"labelPadding":5,"labelOverlap":false,"labelFlush":false,"labelBound":false,"titleFontSize":43,"titleFontWeight":"normal","titleColor":"black","titlePadding":37,"titleY":761}},
"color":{"field":"name","type":"nominal",
"scale":{"domain":["18AUG1996 06:00:00-Sediment Discharge (tonnes/day)","23AUG1997 12:00:00-Sediment Discharge (tonnes/day)","29JUL1998 06:00:00-Sediment Discharge (tonnes/day)","11AUG1999 18:00:00-Sediment Discharge (tonnes/day)","08AUG2000 00:00:00-Sediment Discharge (tonnes/day)","22AUG2001 18:00:00-Sediment Discharge (tonnes/day)","16AUG2002 18:00:00-Sediment Discharge (tonnes/day)","12AUG2003 18:00:00-Sediment Discharge (tonnes/day)","16AUG2004 12:00:00-Sediment Discharge (tonnes/day)","21AUG2005 18:00:00-Sediment Discharge (tonnes/day)"],
"range":["#000000","#0000ff","#008000","#ff00ff","#ff0000","#800080","#00c0c0","#00ff00","#808080","#000080"]},
"legend":{"title":" ","titleFontSize":1,"titlePadding":16.5,"orient":"none","legendX":1989,"legendY":184,"direction":"vertical","strokeColor":"black","fillColor":"white","padding":19,"labelFontSize":34,"labelColor":"black","labelLimit":2000,"labelOffset":-32,"symbolType":"M-18,-34.6H829","symbolSize":4,"symbolStrokeWidth":3,"rowPadding":18.4,"zindex":1}},
"strokeDash":{"datum":"Legend","type":"nominal","scale":{"domain":["Legend"],"range":[[1,0]]},
"legend":{"title":null,"orient":"none","legendX":1989,"legendY":130.5,"direction":"vertical","strokeColor":"black","fillColor":"white","padding":9.75,"labelFontSize":34,"labelFontWeight":"bold","labelColor":"black","labelLimit":2000,"labelAlign":"center","labelOffset":399,"symbolType":"M-8.75,0H852","symbolSize":4,"symbolStrokeWidth":3,"symbolOpacity":0,"zindex":2}}
}},
{"data":{"name":"pts"},"transform":[{"filter":"datum.s === 'a'"}],
"mark":{"type":"point","shape":"square","size":20,"filled":true,"color":"black","opacity":1},
"encoding":{"x":{"field":"x","type":"quantitative"},"y":{"field":"y","type":"quantitative"}}},
{"data":{"values":[{}]},"mark":{"type":"rule","strokeWidth":2.5,"color":"black"},
"encoding":{"x":{"datum":0},"x2":{"datum":10410},"y":{"datum":2576}}},
{"data":{"values":[{}]},"mark":{"type":"rule","strokeWidth":2.5,"color":"black"},
"encoding":{"x":{"datum":10410},"y":{"datum":2496},"y2":{"datum":2660}}},
{"data":{"values":[{}]},"mark":{"type":"point","shape":"M1.8,-1L0,0L1.8,1","size":324,"filled":false,"stroke":"black","strokeWidth":2.5,"opacity":1},
"encoding":{"x":{"datum":0},"y":{"datum":2576}}},
{"data":{"values":[{}]},"mark":{"type":"text","text":"Megech-Ds of dam","fontSize":34,"fill":"white","stroke":"white","strokeWidth":44,"strokeJoin":"round","baseline":"middle"},
"encoding":{"x":{"datum":5178},"y":{"datum":2576}}},
{"data":{"values":[{}]},"mark":{"type":"text","text":"Megech-Ds of dam","fontSize":34,"color":"black","baseline":"middle"},
"encoding":{"x":{"datum":5178},"y":{"datum":2576}}}
]
}
